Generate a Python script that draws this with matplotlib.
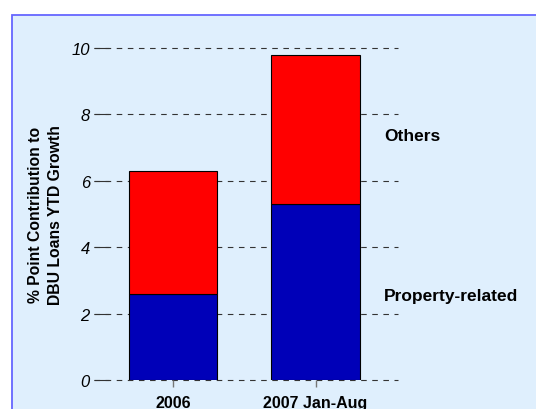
import matplotlib.pyplot as plt
from matplotlib.patches import Rectangle

categories = ['2006', '2007 Jan-Aug']
property_related = [2.6, 5.3]
others = [3.7, 4.5]
yticks = [0, 2, 4, 6, 8, 10]

plt.rcParams['font.family'] = ['Liberation Sans', 'DejaVu Sans']

fig = plt.figure(figsize=(5.36, 4.10), dpi=100)

# light blue panel behind the chart
panel = Rectangle((12 / 536, -0.01), 1.0, (410 - 16) / 410 + 0.01, transform=fig.transFigure,
                  facecolor='#dfeffd', edgecolor='#6666ff', linewidth=1.3, zorder=-5)
fig.patches.append(panel)

ax = fig.add_axes([94 / 536, (410 - 381) / 410, (398 - 94) / 536, (381 - 49) / 410])
ax.set_facecolor('none')
ax.set_zorder(2)

x = list(range(len(categories)))
ax.bar(x, property_related, width=0.62, color='#0000b8', edgecolor='black', linewidth=0.8, zorder=3)
ax.bar(x, others, width=0.62, bottom=property_related, color='#ff0000', edgecolor='black',
       linewidth=0.8, zorder=3)

for t in yticks:
    ax.axhline(t, color='#333333', linewidth=0.8, dashes=(5, 5), zorder=1, clip_on=False)

ax.set_xlim(-0.554, 1.578)
ax.set_ylim(0, 10)
ax.set_yticks(yticks)
ax.set_yticklabels([str(t) for t in yticks], fontsize=12, fontstyle='italic')
ax.tick_params(axis='y', direction='in', length=11, width=0.8, color='#333333', pad=3)
ax.set_xticks(x)
ax.set_xticklabels(categories, fontsize=11.5, fontweight='bold')
ax.tick_params(axis='x', direction='out', length=5, width=1, color='#777777', pad=6)
for s in ax.spines.values():
    s.set_visible(False)

ax.set_ylabel('% Point Contribution to\nDBU Loans YTD Growth', fontsize=11.3, fontweight='bold',
              labelpad=6, linespacing=1.4)

ax.text(1.48, 7.35, 'Others', fontsize=12.5, fontweight='bold', va='center', ha='left')
ax.text(1.48, 2.55, 'Property-related', fontsize=12.5, fontweight='bold', va='center', ha='left')

fig.savefig('out.png', dpi=100)
